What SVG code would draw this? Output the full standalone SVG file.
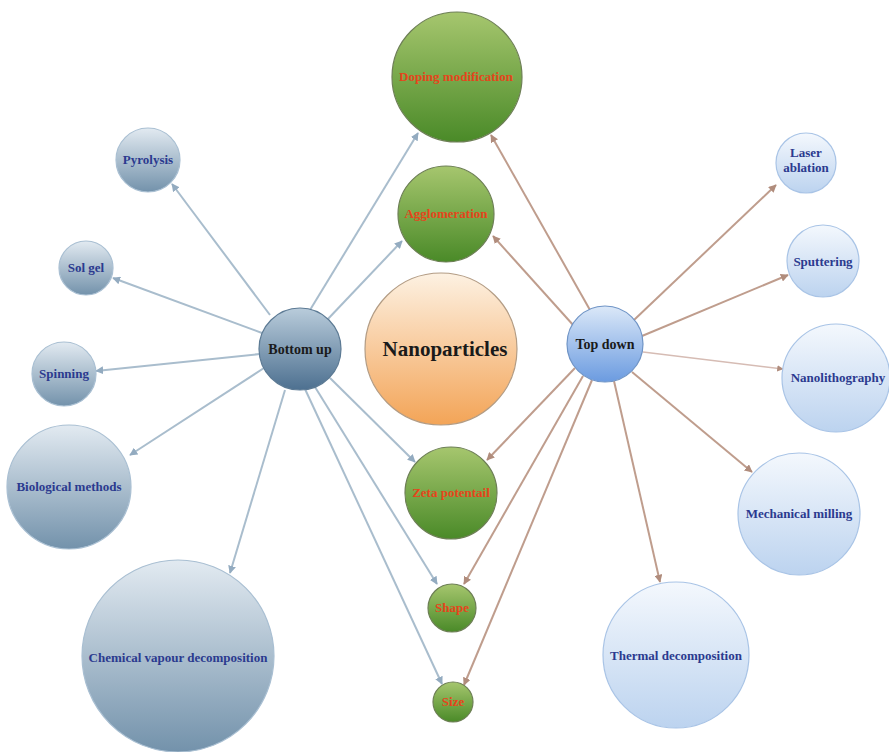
<svg xmlns="http://www.w3.org/2000/svg" width="889" height="752" viewBox="0 0 889 752">
<defs>
<linearGradient id="gSteel" x1="0" y1="0" x2="0" y2="1"><stop offset="0" stop-color="#e2eaf1"/><stop offset="1" stop-color="#7392ab"/></linearGradient>
<linearGradient id="gSteelDark" x1="0" y1="0" x2="0" y2="1"><stop offset="0" stop-color="#b9ccdb"/><stop offset="1" stop-color="#4d7090"/></linearGradient>
<linearGradient id="gLight" x1="0" y1="0" x2="0" y2="1"><stop offset="0" stop-color="#f4f8fd"/><stop offset="1" stop-color="#bcd3ef"/></linearGradient>
<linearGradient id="gBlue" x1="0" y1="0" x2="0" y2="1"><stop offset="0" stop-color="#dbe8f8"/><stop offset="1" stop-color="#6b9be0"/></linearGradient>
<linearGradient id="gGreen" x1="0" y1="0" x2="0" y2="1"><stop offset="0" stop-color="#a6c66e"/><stop offset="1" stop-color="#4a8a28"/></linearGradient>
<linearGradient id="gOrange" x1="0" y1="0" x2="0" y2="1"><stop offset="0" stop-color="#fdf1e2"/><stop offset="1" stop-color="#f3a457"/></linearGradient>
<marker id="arB" viewBox="0 0 10 10" refX="9" refY="5" markerWidth="4" markerHeight="4" orient="auto"><path d="M0,0 L10,5 L0,10 z" fill="#93abc0"/></marker>
<marker id="arR" viewBox="0 0 10 10" refX="9" refY="5" markerWidth="4" markerHeight="4" orient="auto"><path d="M0,0 L10,5 L0,10 z" fill="#b08c7c"/></marker>
<style>
.lb{stroke:#a9bdcd;stroke-width:2;fill:none;marker-end:url(#arB)}
.lr{stroke:#bf9d8d;stroke-width:2;fill:none;marker-end:url(#arR)}
.lp{stroke:#d6bcb4;stroke-width:1.6;fill:none;marker-end:url(#arR)}
.steel{fill:url(#gSteel);stroke:#a9bfd2;stroke-width:1.2}
.light{fill:url(#gLight);stroke:#a9c4e6;stroke-width:1.2}
.green{fill:url(#gGreen);stroke:#6d7f55;stroke-width:1.2}
.t{font-family:"Liberation Serif","Times New Roman",serif;font-weight:bold;font-size:13px;text-anchor:middle}
.tb{fill:#2b3a8f}
.tg{fill:#e5451c}
.tk{fill:#1a1a1a;font-size:14px}
</style>
</defs>
<rect width="889" height="752" fill="#ffffff"/>
<g id="connectors">
<line class="lb" x1="310" y1="310" x2="418" y2="133"/>
<line class="lb" x1="327" y1="320" x2="402" y2="241"/>
<line class="lb" x1="270" y1="315" x2="172" y2="184"/>
<line class="lb" x1="262" y1="333" x2="113" y2="278"/>
<line class="lb" x1="260" y1="354" x2="96" y2="371"/>
<line class="lb" x1="264" y1="368" x2="130" y2="455"/>
<line class="lb" x1="285" y1="390" x2="230" y2="573"/>
<line class="lb" x1="330" y1="378" x2="415" y2="462"/>
<line class="lb" x1="315" y1="387" x2="437" y2="584"/>
<line class="lb" x1="305" y1="389" x2="442" y2="684"/>
<line class="lr" x1="590" y1="310" x2="491" y2="135"/>
<line class="lr" x1="574" y1="326" x2="493" y2="236"/>
<line class="lr" x1="634" y1="320" x2="776" y2="185"/>
<line class="lr" x1="642" y1="336" x2="788" y2="275"/>
<line class="lp" x1="643" y1="352" x2="783" y2="369"/>
<line class="lr" x1="632" y1="372" x2="752" y2="472"/>
<line class="lr" x1="614" y1="381" x2="660" y2="582"/>
<line class="lr" x1="575" y1="368" x2="487" y2="460"/>
<line class="lr" x1="583" y1="376" x2="464" y2="584"/>
<line class="lr" x1="592" y1="380" x2="464" y2="685"/>
</g>
<g id="nanoparticles"><circle cx="441" cy="349" r="76" fill="url(#gOrange)" stroke="#b39c84" stroke-width="1.2"/><text class="t tk" x="445" y="356" style="font-size:21px">Nanoparticles</text></g>
<g id="bottom-up"><circle cx="300" cy="349" r="41" fill="url(#gSteelDark)" stroke="#5c7a94" stroke-width="1.2"/><text class="t tk" x="300" y="354">Bottom up</text></g>
<g id="top-down"><circle cx="605" cy="344" r="38" fill="url(#gBlue)" stroke="#6f94c6" stroke-width="1.2"/><text class="t tk" x="605" y="349">Top down</text></g>
<g id="doping"><circle cx="457" cy="77" r="65" class="green"/><text class="t tg" x="456" y="81">Doping modification</text></g>
<g id="agglomeration"><circle cx="446" cy="214" r="48" class="green"/><text class="t tg" x="446" y="218">Agglomeration</text></g>
<g id="zeta"><circle cx="451" cy="493" r="46" class="green"/><text class="t tg" x="451" y="497">Zeta potentail</text></g>
<g id="shape"><circle cx="452" cy="608" r="24" class="green"/><text class="t tg" x="452" y="612">Shape</text></g>
<g id="size"><circle cx="453" cy="702" r="20" class="green"/><text class="t tg" x="453" y="706">Size</text></g>
<g id="pyrolysis"><circle cx="148" cy="160" r="32" class="steel"/><text class="t tb" x="148" y="164">Pyrolysis</text></g>
<g id="sol-gel"><circle cx="86" cy="268" r="27" class="steel"/><text class="t tb" x="86" y="272">Sol gel</text></g>
<g id="spinning"><circle cx="64" cy="374" r="32" class="steel"/><text class="t tb" x="64" y="378">Spinning</text></g>
<g id="biological"><circle cx="69" cy="487" r="62" class="steel"/><text class="t tb" x="69" y="491">Biological methods</text></g>
<g id="cvd"><circle cx="178" cy="656" r="96" class="steel"/><text class="t tb" x="178" y="662">Chemical vapour decomposition</text></g>
<g id="laser"><circle cx="806" cy="163" r="30" class="light"/><text class="t tb" x="806" y="157">Laser</text><text class="t tb" x="806" y="172">ablation</text></g>
<g id="sputtering"><circle cx="823" cy="261" r="36" class="light"/><text class="t tb" x="823" y="266">Sputtering</text></g>
<g id="nanolithography"><circle cx="836" cy="378" r="54" class="light"/><text class="t tb" x="838" y="382">Nanolithography</text></g>
<g id="milling"><circle cx="799" cy="514" r="61" class="light"/><text class="t tb" x="799" y="518">Mechanical milling</text></g>
<g id="thermal"><circle cx="676" cy="655" r="73" class="light"/><text class="t tb" x="676" y="660">Thermal decomposition</text></g>
</svg>
